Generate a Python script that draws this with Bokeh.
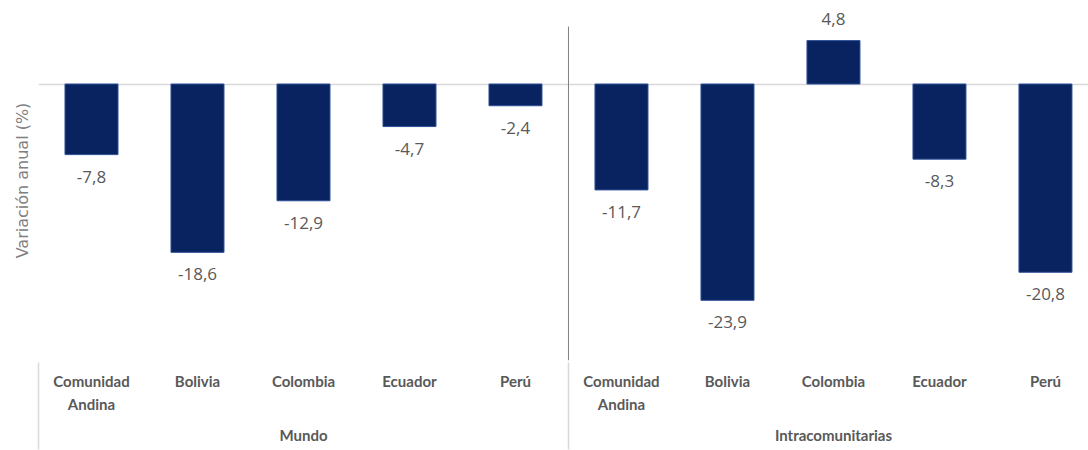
from bokeh.plotting import figure
from bokeh.models import Range1d, FixedTicker, LinearAxis, ColumnDataSource
from bokeh.embed import file_html
from bokeh.resources import INLINE
from bokeh.core.properties import value

# ---- data -------------------------------------------------------------
groups = ["Mundo", "Intracomunitarias"]
countries = ["Comunidad\nAndina", "Bolivia", "Colombia", "Ecuador", "Perú"]
mundo = [-7.8, -18.6, -12.9, -4.7, -2.4]
intracomunitarias = [-11.7, -23.9, 4.8, -8.3, -20.8]
y_title = "Variación anual (%)"

# ---- derived ----------------------------------------------------------
vals = mundo + intracomunitarias
n = len(countries)
xs = [i + 0.5 for i in range(len(vals))]
labels = [f"{v:.1f}".replace(".", ",") for v in vals]
offs = [22 if v < 0 else -22 for v in vals]
src = ColumnDataSource(dict(x=xs, top=vals, label=labels, off=offs))

GREY = "#595959"
SEP = "#d9d9d9"
Y_START, Y_END = -30.55, 9.23
SEP_TOP = 6.35  # top end of the divider between the two groups

p = figure(width=1088, height=450, output_backend="svg", toolbar_location=None,
           x_range=Range1d(0, 9.906), y_range=Range1d(Y_START, Y_END),
           min_border_left=38, min_border_right=0, min_border_top=0,
           min_border_bottom=90)
p.outline_line_color = None
p.background_fill_color = "white"
p.border_fill_color = "white"

# zero line
p.xgrid.visible = False
p.ygrid.ticker = FixedTicker(ticks=[0])
p.ygrid.grid_line_color = SEP
p.ygrid.grid_line_width = 1.5

# y axis: title only
ya = p.yaxis[0]
ya.ticker = FixedTicker(ticks=[])
ya.axis_line_color = None
ya.major_tick_line_color = None
ya.minor_tick_line_color = None
ya.major_tick_out = 0
ya.major_label_standoff = 0
ya.axis_label = y_title
ya.axis_label_text_font = "DejaVu Sans"
ya.axis_label_text_font_size = "16px"
ya.axis_label_text_font_style = "normal"
ya.axis_label_text_color = "#808080"
ya.axis_label_standoff = 7

# x axis 1: countries
xa = p.xaxis[0]
xa.ticker = FixedTicker(ticks=xs)
xa.major_label_overrides = {x: countries[i % n] for i, x in enumerate(xs)}
xa.axis_line_color = None
xa.major_tick_line_color = None
xa.minor_tick_line_color = None
xa.major_tick_out = 0
xa.major_tick_in = 0
xa.major_label_standoff = 11
xa.major_label_text_font = "Lato"
xa.major_label_text_font_size = "15px"
xa.major_label_text_font_style = "bold"
xa.major_label_text_color = GREY
xa.major_label_text_line_height = 1.28

# x axis 2: groups
ga = LinearAxis(ticker=FixedTicker(ticks=[n / 2, n + n / 2]),
                major_label_overrides={n / 2: groups[0], n + n / 2: groups[1]})
ga.axis_line_color = None
ga.major_tick_line_color = None
ga.minor_tick_line_color = None
ga.major_tick_out = 0
ga.major_tick_in = 0
ga.major_label_standoff = 10
ga.major_label_text_font = "Lato"
ga.major_label_text_font_size = "15px"
ga.major_label_text_font_style = "bold"
ga.major_label_text_color = GREY
p.add_layout(ga, "below")

# x axis 3: only the group separator lines (drawn upward as minor ticks)
sa = LinearAxis(ticker=FixedTicker(ticks=[], minor_ticks=[0, n, 2 * n]))
sa.axis_line_color = None
sa.major_tick_line_color = None
sa.major_tick_out = 0
sa.major_tick_in = 0
sa.major_label_standoff = 0
sa.minor_tick_in = 84
sa.minor_tick_out = 3
sa.minor_tick_line_color = SEP
sa.minor_tick_line_width = 1.5
p.add_layout(sa, "below")

# divider between groups inside the plot
p.segment(x0=[n], x1=[n], y0=[Y_START], y1=[SEP_TOP], line_color="#808080", line_width=1)

# bars
p.vbar(x="x", top="top", bottom=0, width=0.5, source=src,
       fill_color="#08235f", line_color="#2d4f99", line_width=1)

# value labels
p.text(x="x", y="top", text="label", y_offset="off", source=src,
       text_align="center", text_baseline="middle",
       text_font=value("Open Sans"), text_font_size="17px", text_color=GREY)

open("out.html", "w").write(file_html(p, INLINE))
